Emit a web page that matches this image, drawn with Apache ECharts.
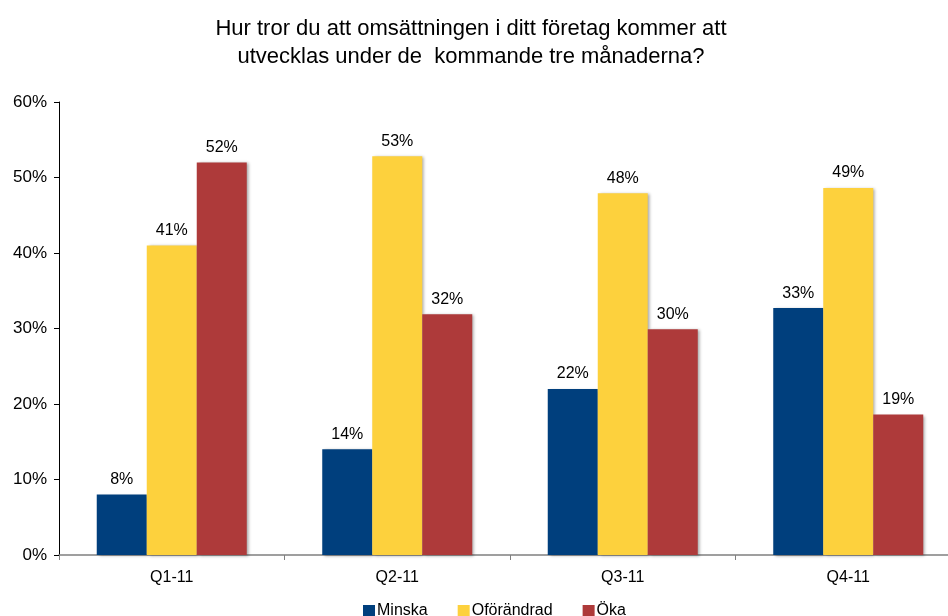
<!DOCTYPE html>
<html><head><meta charset="utf-8">
<script src="https://cdn.jsdelivr.net/npm/echarts@6/dist/echarts.min.js"></script>
<style>html,body{margin:0;padding:0;background:#fff}#c{width:948px;height:616px}</style>
</head><body><div id="c"></div>
<script>
var categories = ['Q1-11', 'Q2-11', 'Q3-11', 'Q4-11'];
var minska = [8, 14, 22, 32.7];
var oforandrad = [41, 52.8, 47.9, 48.6];
var oka = [52, 31.9, 29.9, 18.6];
var yTicks = [0, 10, 20, 30, 40, 50, 60];

var chart = echarts.init(document.getElementById('c'));
var font = 'Liberation Sans, Arial, sans-serif';
function s(name, data, color) {
  return {
    name: name, type: 'bar', data: data, barWidth: 50, barGap: '0%',
    itemStyle: { color: color, shadowColor: 'rgba(0,0,0,0.35)', shadowBlur: 3, shadowOffsetX: 2, shadowOffsetY: 1 },
    label: { show: true, position: 'top', distance: 7, color: '#000', fontFamily: font, fontSize: 16,
      formatter: function (p) { return Math.round(p.value) + '%'; } }
  };
}
chart.setOption({
  animation: false,
  title: {
    text: 'Hur tror du att omsättningen i ditt företag kommer att\nutvecklas under de  kommande tre månaderna?',
    left: 466, textAlign: 'center', top: 10,
    textStyle: { fontFamily: font, fontSize: 22, fontWeight: 'normal', color: '#000', lineHeight: 28 }
  },
  legend: {
    left: 358, top: 598, itemWidth: 12, itemHeight: 12, itemGap: 30,
    icon: 'rect',
    textStyle: { fontFamily: font, fontSize: 16, color: '#000', padding: [0, 0, 0, -3] },
    data: ['Minska', 'Oförändrad', 'Öka']
  },
  grid: { left: 59, top: 102, width: 902, height: 453, outerBoundsMode: 'none', containLabel: false },
  xAxis: {
    type: 'category', data: categories,
    axisLine: { lineStyle: { color: '#808080', width: 1.5 } },
    axisTick: { show: true, length: 5, lineStyle: { color: '#808080' } },
    axisLabel: { fontFamily: font, fontSize: 16, color: '#000', margin: 15 }
  },
  yAxis: {
    type: 'value', min: 0, max: 60, interval: 10,
    axisLine: { show: true, lineStyle: { color: '#000' } },
    axisTick: { show: true, length: 5, lineStyle: { color: '#000' } },
    splitLine: { show: false },
    axisLabel: { fontFamily: font, fontSize: 17, color: '#000', margin: 12,
      formatter: function (v) { return yTicks.indexOf(v) >= 0 ? v + '%' : ''; } }
  },
  series: [
    s('Minska', minska, '#003f7d'),
    s('Oförändrad', oforandrad, '#fdd13d'),
    s('Öka', oka, '#ae3a3a')
  ]
});
</script></body></html>
